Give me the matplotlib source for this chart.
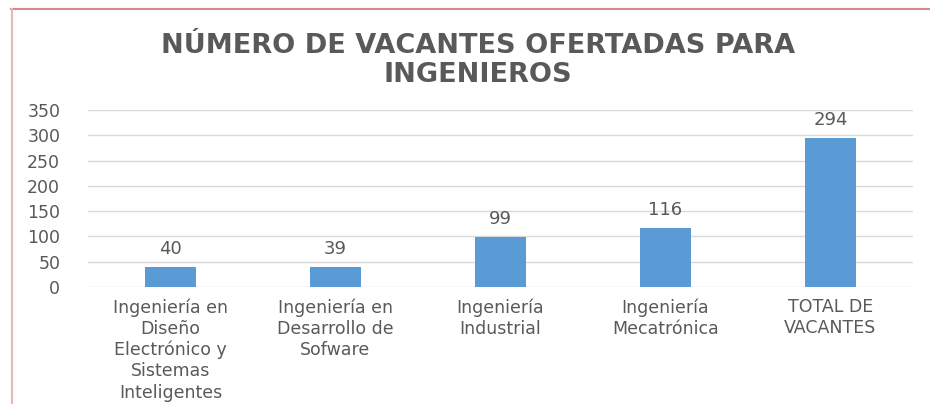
import matplotlib.pyplot as plt
from matplotlib.lines import Line2D

categorias = ["Ingeniería en\nDiseño\nElectrónico y\nSistemas\nInteligentes",
              "Ingeniería en\nDesarrollo de\nSofware",
              "Ingeniería\nIndustrial",
              "Ingeniería\nMecatrónica",
              "TOTAL DE\nVACANTES"]
vacantes = [40, 39, 99, 116, 294]
yticks = [0, 50, 100, 150, 200, 250, 300, 350]

gris = '#595959'
fig = plt.figure(figsize=(9.3, 4.04), dpi=100)
ax = fig.add_axes([0.0946, 0.2896, 0.8871, 0.4381])

x = range(len(categorias))
ax.bar(x, vacantes, width=0.31, color='#5B9BD5', zorder=3)
for i, v in zip(x, vacantes):
    ax.text(i, v + 18, str(v), ha='center', va='bottom', fontsize=13, color=gris)

ax.set_xlim(-0.5, len(categorias) - 0.5)
ax.set_ylim(0, 350)
ax.set_yticks(yticks)
ax.set_xticks(list(x))
ax.set_xticklabels(categorias, fontsize=12.5, color=gris, linespacing=1.22)
ax.tick_params(axis='y', labelsize=12.5, labelcolor=gris, length=0, pad=20)
ax.tick_params(axis='x', length=0, pad=8)
ax.grid(axis='y', color='#D9D9D9', linewidth=1, zorder=0)
for s in ax.spines.values():
    s.set_visible(False)

fig.text(0.514, 0.886, "NÚMERO DE VACANTES OFERTADAS PARA", ha='center', va='center',
         fontsize=19.5, fontweight='bold', color=gris)
fig.text(0.514, 0.815, "INGENIEROS", ha='center', va='center',
         fontsize=19.5, fontweight='bold', color=gris)

# marco rosado del recorte original
fig.add_artist(Line2D([11 / 930, 1], [1 - 9 / 404, 1 - 9 / 404], transform=fig.transFigure,
                      color='#D48A8A', linewidth=1.5))
fig.add_artist(Line2D([12 / 930, 12 / 930], [0, 1 - 9 / 404], transform=fig.transFigure,
                      color='#E6B8B8', linewidth=1.5))

fig.savefig('out.png', dpi=100)
plt.close(fig)
